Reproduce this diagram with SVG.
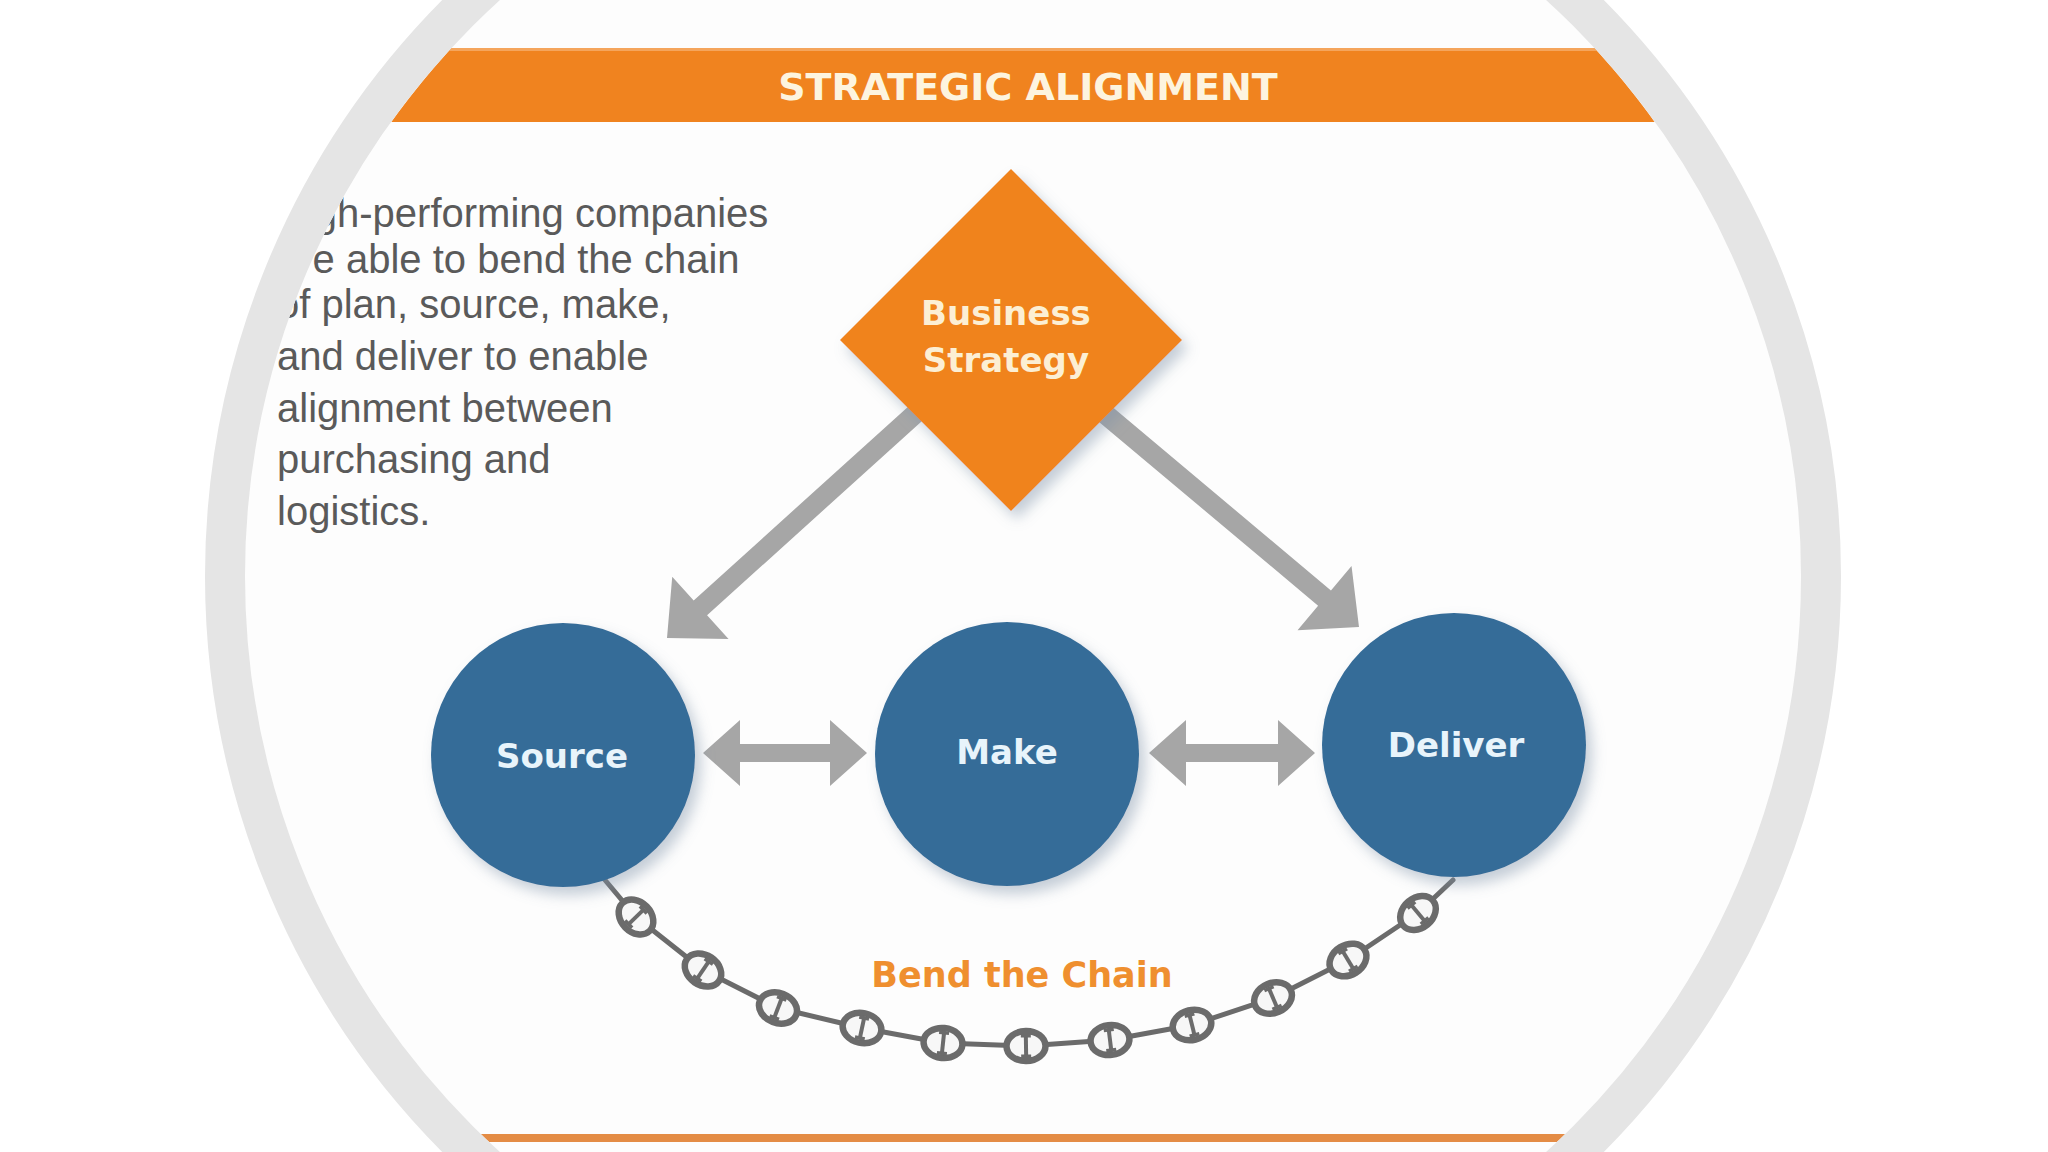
<svg xmlns="http://www.w3.org/2000/svg" xmlns:xlink="http://www.w3.org/1999/xlink" width="2048" height="1152" viewBox="0 0 2048 1152">
  <style>
    .body { font-family: "Liberation Sans", Arial, sans-serif; font-size: 40px; fill: #5a5a5a; }
    .bold { font-family: "DejaVu Sans", "Liberation Sans", sans-serif; font-weight: bold; text-anchor: middle; }
    .node-label { font-size: 34px; fill: #e8f4fb; }
    .diamond-label { font-size: 34px; fill: #fcefd4; }
    .banner-label { font-size: 38px; fill: #fdf4df; }
    .chain-label { font-size: 35px; fill: #ef8f2f; }
    .circle-node { fill: #356c98; filter: url(#shadow); }
    .arrow { fill: #a6a6a6; }
    .chain-line { fill: none; stroke: #6b6b6b; stroke-width: 5; stroke-linejoin: round; stroke-linecap: round; }
  </style>
  <defs>
    <clipPath id="inner">
      <circle cx="1023" cy="576" r="778"/>
    </clipPath>
    <filter id="shadow" x="-30%" y="-30%" width="160%" height="160%">
      <feDropShadow dx="6" dy="8" stdDeviation="7" flood-color="#7f93a8" flood-opacity="0.45"/>
    </filter>
    <g id="link">
      <ellipse cx="0" cy="0" rx="19.5" ry="15" fill="#f7f7f7" stroke="#6b6b6b" stroke-width="6.5"/>
      <rect x="-2" y="-12" width="4" height="24" fill="#6b6b6b"/>
      <rect x="-5" y="-12" width="10" height="3.5" fill="#6b6b6b"/>
      <rect x="-5" y="8.5" width="10" height="3.5" fill="#6b6b6b"/>
    </g>
  </defs>

  <rect x="0" y="0" width="2048" height="1152" fill="#ffffff"/>

  <!-- content clipped to the circle interior -->
  <g clip-path="url(#inner)">
    <rect x="0" y="0" width="2048" height="1152" fill="#fdfdfd"/>
    <g id="banner">
      <rect x="0" y="48" width="2048" height="74" fill="#f0831f"/>
      <rect x="0" y="48" width="2048" height="3" fill="#f5a55c"/>
      <text class="bold banner-label" x="1028" y="100">STRATEGIC ALIGNMENT</text>
    </g>
    <g id="bottom-band">
      <rect x="0" y="1134" width="2048" height="8" fill="#e48c45"/>
    </g>
    <g id="description">
      <text class="body" x="277" y="227">High-performing companies</text>
      <text class="body" x="277" y="273">are able to bend the chain</text>
      <text class="body" x="277" y="318">of plan, source, make,</text>
      <text class="body" x="277" y="370">and deliver to enable</text>
      <text class="body" x="277" y="422">alignment between</text>
      <text class="body" x="277" y="473">purchasing and</text>
      <text class="body" x="277" y="525">logistics.</text>
    </g>
  </g>

  <!-- outer ring -->
  <circle cx="1023" cy="576" r="798" fill="none" stroke="#e5e5e5" stroke-width="40"/>

  <!-- connectors -->
  <g id="connectors">
    <polygon class="arrow" transform="translate(667,638) rotate(137.9)" points="0,0 -45,-42 -45,-10 -350,-10 -350,10 -45,10 -45,42"/>
    <polygon class="arrow" transform="translate(1359,627) rotate(40)" points="0,0 -45,-42 -45,-10 -345,-10 -345,10 -45,10 -45,42"/>
    <polygon class="arrow" points="703,753 740,720 740,744 830,744 830,720 867,753 830,786 830,762 740,762 740,786"/>
    <polygon class="arrow" points="1149,753 1186,720 1186,744 1278,744 1278,720 1315,753 1278,786 1278,762 1186,762 1186,786"/>
  </g>

  <!-- chain -->
  <g id="chain">
    <polyline class="chain-line" points="605,880 636,917 703,970 778,1008 862,1028 943,1043 1026,1046 1110,1040 1192,1025 1273,998 1348,960 1418,913 1453,880"/>
    <use xlink:href="#link" transform="translate(636,917) rotate(46)"/>
    <use xlink:href="#link" transform="translate(703,970) rotate(34)"/>
    <use xlink:href="#link" transform="translate(778,1008) rotate(21)"/>
    <use xlink:href="#link" transform="translate(862,1028) rotate(12)"/>
    <use xlink:href="#link" transform="translate(943,1043) rotate(6)"/>
    <use xlink:href="#link" transform="translate(1026,1046) rotate(-1)"/>
    <use xlink:href="#link" transform="translate(1110,1040) rotate(-7)"/>
    <use xlink:href="#link" transform="translate(1192,1025) rotate(-14)"/>
    <use xlink:href="#link" transform="translate(1273,998) rotate(-23)"/>
    <use xlink:href="#link" transform="translate(1348,960) rotate(-31)"/>
    <use xlink:href="#link" transform="translate(1418,913) rotate(-40)"/>
    <text class="bold chain-label" x="1022" y="987">Bend the Chain</text>
  </g>

  <!-- nodes -->
  <g id="business-strategy">
    <polygon points="1011,169 1182,340 1011,511 840,340" fill="#f0831f" filter="url(#shadow)"/>
    <text class="bold diamond-label" x="1006" y="325">Business</text>
    <text class="bold diamond-label" x="1006" y="372">Strategy</text>
  </g>
  <g id="source">
    <circle class="circle-node" cx="563" cy="755" r="132"/>
    <text class="bold node-label" x="562" y="768">Source</text>
  </g>
  <g id="make">
    <circle class="circle-node" cx="1007" cy="754" r="132"/>
    <text class="bold node-label" x="1007" y="764">Make</text>
  </g>
  <g id="deliver">
    <circle class="circle-node" cx="1454" cy="745" r="132"/>
    <text class="bold node-label" x="1456" y="757">Deliver</text>
  </g>
</svg>
